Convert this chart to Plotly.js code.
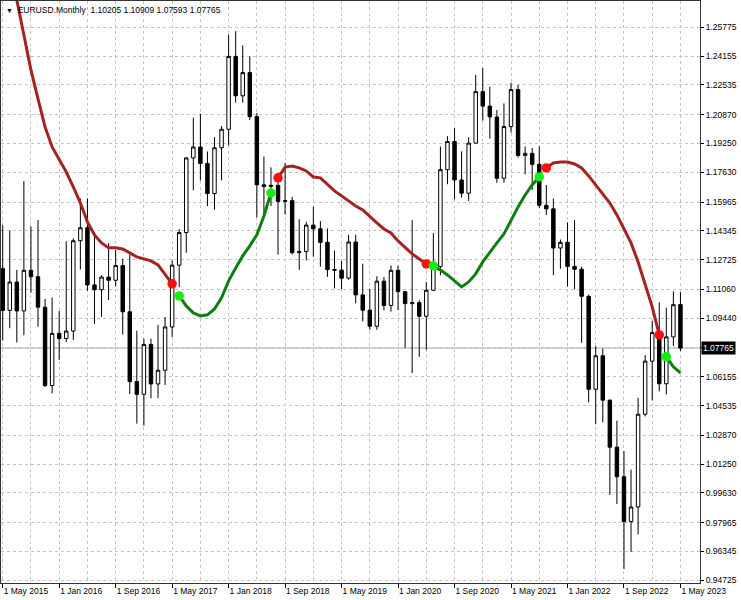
<!DOCTYPE html>
<html><head><meta charset="utf-8">
<script src="https://cdn.plot.ly/plotly-3.0.1.min.js"></script>
<style>html,body{margin:0;padding:0;background:#fff;}#chart{width:741px;height:600px;}</style>
</head><body><div id="chart"></div>
<script>
const months = ['May 2015','Jun 2015','Jul 2015','Aug 2015','Sep 2015','Oct 2015','Nov 2015','Dec 2015',
'Jan 2016','Feb 2016','Mar 2016','Apr 2016','May 2016','Jun 2016','Jul 2016','Aug 2016','Sep 2016','Oct 2016','Nov 2016','Dec 2016',
'Jan 2017','Feb 2017','Mar 2017','Apr 2017','May 2017','Jun 2017','Jul 2017','Aug 2017','Sep 2017','Oct 2017','Nov 2017','Dec 2017',
'Jan 2018','Feb 2018','Mar 2018','Apr 2018','May 2018','Jun 2018','Jul 2018','Aug 2018','Sep 2018','Oct 2018','Nov 2018','Dec 2018',
'Jan 2019','Feb 2019','Mar 2019','Apr 2019','May 2019','Jun 2019','Jul 2019','Aug 2019','Sep 2019','Oct 2019','Nov 2019','Dec 2019',
'Jan 2020','Feb 2020','Mar 2020','Apr 2020','May 2020','Jun 2020','Jul 2020','Aug 2020','Sep 2020','Oct 2020','Nov 2020','Dec 2020',
'Jan 2021','Feb 2021','Mar 2021','Apr 2021','May 2021','Jun 2021','Jul 2021','Aug 2021','Sep 2021','Oct 2021','Nov 2021','Dec 2021',
'Jan 2022','Feb 2022','Mar 2022','Apr 2022','May 2022','Jun 2022','Jul 2022','Aug 2022','Sep 2022','Oct 2022','Nov 2022','Dec 2022',
'Jan 2023','Feb 2023','Mar 2023','Apr 2023','May 2023'];

const opens = [1.1222,1.0988,1.1147,1.0985,1.1213,1.1177,1.1006,1.0566,
1.0859,1.0830,1.0872,1.1379,1.1452,1.1131,1.1104,1.1175,1.1157,1.1240,1.0980,1.0588,
1.0517,1.0797,1.0575,1.0652,1.0895,1.1242,1.1425,1.1844,1.1905,1.1813,1.1644,1.1901,
1.2005,1.2414,1.2193,1.2323,1.2076,1.1693,1.1684,1.1690,1.1600,1.1604,1.1312,1.1318,
1.1467,1.1446,1.1370,1.1217,1.1214,1.1169,1.1372,1.1075,1.0989,1.0899,1.1152,1.1016,
1.1213,1.1093,1.1026,1.1031,1.0955,1.1101,1.1234,1.1778,1.1936,1.1720,1.1646,1.1927,
1.2216,1.2135,1.2074,1.1730,1.2020,1.2228,1.1858,1.1870,1.1808,1.1578,1.1558,1.1338,
1.1370,1.1235,1.1219,1.1067,1.0545,1.0733,1.0484,1.0220,1.0054,0.9802,0.9884,1.0405,
1.0703,1.0863,1.0576,1.0839,1.10205];
const highs = [1.1466,1.1436,1.1216,1.1714,1.1460,1.1495,1.1052,1.1060,
1.0986,1.1376,1.1393,1.1616,1.1617,1.1428,1.1186,1.1366,1.1327,1.1278,1.1300,1.0874,
1.0829,1.0829,1.0906,1.0951,1.1268,1.1445,1.1846,1.2070,1.2092,1.1880,1.1961,1.2023,
1.2537,1.2556,1.2476,1.2414,1.2097,1.1852,1.1791,1.1734,1.1815,1.1625,1.1500,1.1486,
1.1570,1.1489,1.1448,1.1324,1.1265,1.1412,1.1412,1.1250,1.1110,1.1180,1.1176,1.1240,
1.1239,1.1096,1.1495,1.1045,1.1147,1.1422,1.1908,1.1966,1.2011,1.1881,1.1960,1.2310,
1.2349,1.2243,1.2113,1.2150,1.2266,1.2254,1.1909,1.1900,1.1909,1.1692,1.1616,1.1386,
1.1482,1.1495,1.1233,1.1076,1.0787,1.0773,1.0486,1.0369,1.0198,1.0094,1.0497,1.0737,
1.0929,1.1033,1.1003,1.1095,1.10909];
const lows = [1.0819,1.0888,1.0808,1.0848,1.1087,1.0896,1.0557,1.0522,
1.0710,1.0810,1.0822,1.1217,1.1098,1.0912,1.0952,1.1046,1.1122,1.0852,1.0518,1.0352,
1.0340,1.0494,1.0495,1.0569,1.0839,1.1118,1.1312,1.1662,1.1717,1.1574,1.1554,1.1718,
1.1916,1.2154,1.2154,1.2056,1.1510,1.1508,1.1574,1.1301,1.1526,1.1302,1.1216,1.1269,
1.1289,1.1234,1.1176,1.1111,1.1107,1.1160,1.1028,1.0926,1.0879,1.0879,1.0989,1.0981,
1.0990,1.0778,1.0636,1.0727,1.0767,1.1097,1.1185,1.1696,1.1612,1.1622,1.1603,1.1925,
1.2053,1.1952,1.1704,1.1704,1.1986,1.1847,1.1752,1.1664,1.1562,1.1524,1.1186,1.1222,
1.1121,1.1106,1.0806,1.0471,1.0349,1.0359,0.9952,0.9901,0.9536,0.9632,0.9730,1.0393,
1.0482,1.0533,1.0516,1.0788,1.07593];
const closes = [1.0988,1.1147,1.0985,1.1213,1.1177,1.1006,1.0566,1.0859,
1.0830,1.0872,1.1379,1.1452,1.1131,1.1104,1.1175,1.1157,1.1240,1.0980,1.0588,1.0517,
1.0797,1.0575,1.0652,1.0895,1.1242,1.1425,1.1844,1.1905,1.1813,1.1644,1.1901,1.2005,
1.2414,1.2193,1.2323,1.2076,1.1693,1.1684,1.1690,1.1600,1.1604,1.1312,1.1318,1.1467,
1.1446,1.1370,1.1217,1.1214,1.1169,1.1372,1.1075,1.0989,1.0899,1.1152,1.1016,1.1213,
1.1093,1.1026,1.1031,1.0955,1.1101,1.1234,1.1778,1.1936,1.1720,1.1646,1.1927,1.2216,
1.2135,1.2074,1.1730,1.2020,1.2228,1.1858,1.1870,1.1808,1.1578,1.1558,1.1338,1.1370,
1.1235,1.1219,1.1067,1.0545,1.0733,1.0484,1.0220,1.0054,0.9802,0.9884,1.0405,1.0703,
1.0863,1.0576,1.0839,1.1020,1.07765];

// trend line: red while falling, green while rising (null = other colour)
const redLine = [1.3124,1.2927,1.2731,1.2534,1.2338,1.2175,1.2018,1.1906,
1.1838,1.1765,1.1681,1.1591,1.1485,1.1412,1.1367,1.1339,1.1339,1.1333,1.1311,1.1288,
1.1277,1.1266,1.1243,1.1193,1.1137,null,null,null,null,null,null,null,
null,null,null,null,null,null,null,1.1732,1.1793,1.1799,1.1788,1.1771,
1.1737,1.1732,1.1698,1.1659,1.1631,1.1603,1.1574,1.1552,1.1513,1.1479,1.1445,1.1423,
1.1378,1.1339,1.1305,1.1277,1.1249,null,null,null,null,null,null,null,
null,null,null,null,null,null,null,null,null,1.1788,1.1816,1.1821,
1.1821,1.1810,1.1788,1.1743,1.1692,1.1636,1.1591,1.1524,1.1445,1.1367,1.1260,1.1137,
1.1008,1.0850,null,null,null];
const greenLine = [null,null,null,null,null,null,null,null,
null,null,null,null,null,null,null,null,null,null,null,null,
null,null,null,null,null,1.1069,1.1013,1.0974,1.0957,1.0963,1.0996,1.1058,
1.1154,1.1226,1.1294,1.1350,1.1412,1.1518,1.1647,null,null,null,null,null,
null,null,null,null,null,null,null,null,null,null,null,null,
null,null,null,null,null,1.1238,1.1215,1.1187,1.1154,1.1120,1.1148,1.1193,
1.1260,1.1316,1.1367,1.1417,1.1496,1.1569,1.1636,1.1692,1.1737,null,null,null,
null,null,null,null,null,null,null,null,null,null,null,null,
null,null,1.0727,1.0671,1.0637];

const tickLabels = ['1 May 2015','1 Jan 2016','1 Sep 2016','1 May 2017','1 Jan 2018','1 Sep 2018','1 May 2019',
'1 Jan 2020','1 Sep 2020','1 May 2021','1 Jan 2022','1 Sep 2022','1 May 2023'];
const priceTicks = [1.25775,1.24155,1.22535,1.20870,1.19250,1.17630,1.15965,1.14345,1.12725,1.11060,1.09440,
1.07800,1.06155,1.04535,1.02870,1.01250,0.99630,0.97965,0.96345,0.94725];
const symbol = 'EURUSD';
const period = 'Monthly';

const xs = months.map((m, i) => i);
const last = months.length - 1;
const tickVals = tickLabels.map(t => months.indexOf(t.slice(2)));
const minorVals = tickVals.slice(0, -1).map((v, k) => (v + tickVals[k + 1]) / 2);
const priceText = priceTicks.map(v => Math.abs(v - 1.078) < 1e-9 ? '' : v.toFixed(5));

function switchDots(arr) {
  const xd = [], yd = [];
  arr.forEach((v, i) => {
    if (v === null) return;
    const startAfterGap = i > 0 && arr[i - 1] === null;
    const endBeforeGap = i < arr.length - 1 && arr[i + 1] === null;
    if (startAfterGap || endBeforeGap) { xd.push(i); yd.push(v); }
  });
  return {xd, yd};
}
const rd = switchDots(redLine), gd = switchDots(greenLine);

const FONT = 'Liberation Sans, Arial, sans-serif';
const FS = 8.5;
const GRID = '#c4c4c4';

const traces = [
  {type: 'candlestick', x: xs, open: opens, high: highs, low: lows, close: closes,
   increasing: {line: {color: '#000', width: 1}, fillcolor: '#ffffff'},
   decreasing: {line: {color: '#000', width: 1}, fillcolor: '#000000'},
   whiskerwidth: 0, hoverinfo: 'none', showlegend: false},
  {type: 'scatter', mode: 'lines', x: xs, y: redLine, connectgaps: false,
   line: {color: '#a52222', width: 3}, hoverinfo: 'none', showlegend: false},
  {type: 'scatter', mode: 'lines', x: xs, y: greenLine, connectgaps: false,
   line: {color: '#0e7f0e', width: 3}, hoverinfo: 'none', showlegend: false},
  {type: 'scatter', mode: 'markers', x: rd.xd, y: rd.yd,
   marker: {color: '#ff0d0d', size: 9.5}, hoverinfo: 'none', showlegend: false},
  {type: 'scatter', mode: 'markers', x: gd.xd, y: gd.yd,
   marker: {color: '#12f012', size: 9.5}, hoverinfo: 'none', showlegend: false}
];

const layout = {
  width: 741, height: 600,
  margin: {l: 1, r: 41, t: 1, b: 17, pad: 0},
  paper_bgcolor: '#ffffff', plot_bgcolor: '#ffffff',
  font: {family: FONT, size: FS, color: '#000'},
  showlegend: false,
  xaxis: {
    type: 'linear', range: [-0.241, 98.77], rangeslider: {visible: false},
    tickmode: 'array', tickvals: tickVals, ticktext: tickLabels,
    ticks: 'outside', ticklen: 4, tickcolor: '#000', tickwidth: 1,
    ticklabelposition: 'outside right',
    showgrid: true, gridcolor: GRID, griddash: 'dot', gridwidth: 1,
    minor: {tickmode: 'array', tickvals: minorVals, showgrid: true, gridcolor: GRID, griddash: 'dot', gridwidth: 1, ticks: ''},
    showline: true, mirror: true, linecolor: '#333', linewidth: 1,
    zeroline: false, fixedrange: true, tickfont: {family: FONT, size: FS, color: '#000'}
  },
  yaxis: {
    side: 'right', range: [0.94573, 1.27251],
    tickmode: 'array', tickvals: priceTicks, ticktext: priceText,
    ticks: 'outside', ticklen: 3, tickcolor: '#000', tickwidth: 1,
    showgrid: true, gridcolor: GRID, griddash: 'dot', gridwidth: 1,
    showline: true, mirror: true, linecolor: '#333', linewidth: 1,
    zeroline: false, fixedrange: true, tickfont: {family: FONT, size: FS, color: '#000'}
  },
  shapes: [
    {type: 'line', xref: 'paper', x0: 0, x1: 1, yref: 'y', y0: closes[last], y1: closes[last],
     line: {color: '#a8a8a8', width: 1}, layer: 'below'}
  ],
  annotations: [
    {xref: 'paper', yref: 'y', x: 1, y: closes[last], xanchor: 'left', yanchor: 'middle',
     xshift: 1, text: closes[last].toFixed(5), showarrow: false,
     bgcolor: '#000000', font: {family: FONT, size: FS, color: '#ffffff'}, borderpad: 1},
    {xref: 'paper', yref: 'paper', x: 0, y: 1, xanchor: 'left', yanchor: 'top', xshift: 3, yshift: -2,
     text: '<span style="font-size:7px">▼</span>\u00a0\u00a0' + symbol + '.' + period + '\u00a0\u00a0' +
       [opens[last], highs[last], lows[last], closes[last]].map(v => v.toFixed(5)).join(' '),
     showarrow: false, font: {family: FONT, size: FS, color: '#000'}}
  ]
};

Plotly.newPlot('chart', traces, layout, {staticPlot: true, displayModeBar: false});
</script>
</body></html>
